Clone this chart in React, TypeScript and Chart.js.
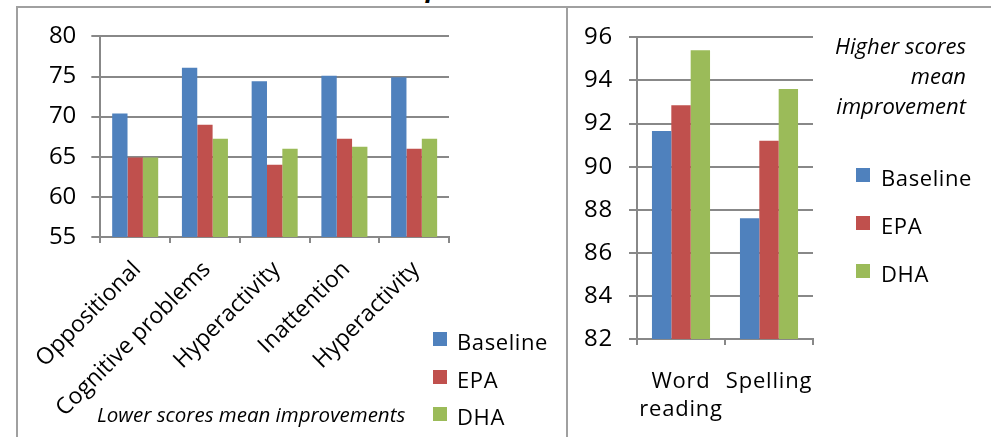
import React, { useEffect, useRef } from 'react';
import { Chart, registerables } from 'chart.js';

Chart.register(...registerables);

// ---------- data ----------
const seriesNames = ['Baseline', 'EPA', 'DHA'];
const seriesColors = ['#4F81BD', '#C0504D', '#9BBB59'];

const behaviorCategories = ['Oppositional', 'Cognitive problems', 'Hyperactivity', 'Inattention', 'Hyperactivity'];
const behaviorBaseline = [70.4, 76.1, 74.4, 75.1, 74.9];
const behaviorEPA = [64.9, 69.0, 64.0, 67.25, 66.0];
const behaviorDHA = [64.9, 67.25, 66.0, 66.25, 67.25];
const behaviorYMin = 55;
const behaviorYMax = 80;
const behaviorYStep = 5;

const readingCategories = [['Word', 'reading'], 'Spelling'];
const readingBaseline = [91.65, 87.6];
const readingEPA = [92.85, 91.2];
const readingDHA = [95.4, 93.6];
const readingYMin = 82;
const readingYMax = 96;
const readingYStep = 2;

const leftNote = 'Lower scores mean improvements';
const rightNote = ['Higher scores', 'mean', 'improvement'];

// ---------- styles ----------
const FONT = "'Open Sans', sans-serif";
const GRID = '#888888';
const FRAME = '#a0a0a0';

function makeSpacingPlugin(px: number) {
  return {
    id: 'letterSpacing',
    beforeDraw(chart: any) {
      (chart.ctx as any).letterSpacing = px + 'px';
    },
  };
}

function makeDatasets(values: number[][]) {
  return values.map((v, i) => ({
    label: seriesNames[i],
    data: v,
    backgroundColor: seriesColors[i],
    borderWidth: 0,
    categoryPercentage: 0.66,
    barPercentage: 1,
  }));
}

function BarCanvas(props: {
  width: number;
  height: number;
  labels: any[];
  values: number[][];
  yMin: number;
  yMax: number;
  yStep: number;
  padTop: number;
  padRight: number;
  yWidth: number;
  xHeight: number;
  yTickLen: number;
  yPad: number;
  xFontSize: number;
  xLineHeight: number;
  xPad: number;
  rotate: boolean;
  labelOffset: number;
  spacing: number;
}) {
  const ref = useRef<HTMLCanvasElement | null>(null);
  useEffect(() => {
    if (!ref.current) return;
    const chart = new Chart(ref.current, {
      type: 'bar',
      data: { labels: props.labels, datasets: makeDatasets(props.values) as any },
      plugins: [makeSpacingPlugin(props.spacing)],
      options: {
        animation: false,
        responsive: false,
        maintainAspectRatio: false,
        layout: { padding: { top: props.padTop, right: props.padRight, left: 0, bottom: 0 } },
        plugins: {
          legend: { display: false },
          tooltip: { enabled: false },
          title: { display: false },
        },
        scales: {
          x: {
            grid: {
              offset: true,
              drawOnChartArea: false,
              drawTicks: true,
              tickLength: 6,
              color: GRID,
              lineWidth: 2,
            },
            border: { display: true, color: GRID, width: 2 },
            ticks: {
              autoSkip: false,
              maxRotation: props.rotate ? 45 : 0,
              minRotation: props.rotate ? 45 : 0,
              padding: props.xPad,
              labelOffset: props.labelOffset,
              color: '#000',
              font: { family: FONT, size: props.xFontSize, lineHeight: props.xLineHeight },
            },
            afterFit: (s: any) => {
              s.height = props.xHeight;
            },
          },
          y: {
            min: props.yMin,
            max: props.yMax,
            ticks: {
              stepSize: props.yStep,
              padding: props.yPad,
              color: '#000',
              font: { family: FONT, size: 24 },
            },
            grid: { color: GRID, lineWidth: 2, tickLength: props.yTickLen, drawTicks: true },
            border: { display: true, color: GRID, width: 2 },
            afterFit: (s: any) => {
              s.width = props.yWidth;
            },
          },
        },
      } as any,
    });
    return () => chart.destroy();
  }, []);
  return (
    <canvas
      ref={ref}
      width={props.width}
      height={props.height}
      style={{ width: props.width, height: props.height, display: 'block' }}
    />
  );
}

function LegendItem(props: { x: number; y: number; tx: number; color: string; text: string }) {
  return (
    <>
      <div
        style={{
          position: 'absolute',
          left: props.x,
          top: props.y,
          width: 14,
          height: 14,
          background: props.color,
        }}
      />
      <div
        style={{
          position: 'absolute',
          left: props.tx,
          top: props.y - 2,
          fontFamily: FONT,
          fontSize: 22,
          lineHeight: '22px',
          letterSpacing: '0.6px',
          color: '#000',
          whiteSpace: 'nowrap',
        }}
      >
        {props.text}
      </div>
    </>
  );
}

export default function App() {
  return (
    <div
      style={{
        position: 'absolute',
        left: 0,
        top: 0,
        width: 991,
        height: 437,
        overflow: 'hidden',
        background: '#fff',
      }}
    >
      {/* cropped title fragment */}
      <div
        style={{
          position: 'absolute',
          left: 426,
          top: -27,
          fontFamily: FONT,
          fontWeight: 700,
          fontStyle: 'italic',
          fontSize: 26,
          lineHeight: '28px',
          color: '#000',
        }}
      >
        p
      </div>

      {/* left chart */}
      <div style={{ position: 'absolute', left: 17, top: 7 }}>
        <BarCanvas
          width={550}
          height={430}
          labels={behaviorCategories}
          values={[behaviorBaseline, behaviorEPA, behaviorDHA]}
          yMin={behaviorYMin}
          yMax={behaviorYMax}
          yStep={behaviorYStep}
          padTop={28}
          padRight={118}
          yWidth={82}
          xHeight={200}
          yTickLen={9}
          yPad={15}
          xFontSize={23}
          xLineHeight={1.2}
          xPad={13}
          rotate={true}
          labelOffset={2}
          spacing={0}
        />
      </div>

      {/* right chart */}
      <div style={{ position: 'absolute', left: 568, top: 7 }}>
        <BarCanvas
          width={423}
          height={430}
          labels={readingCategories}
          values={[readingBaseline, readingEPA, readingDHA]}
          yMin={readingYMin}
          yMax={readingYMax}
          yStep={readingYStep}
          padTop={28}
          padRight={178}
          yWidth={69}
          xHeight={98}
          yTickLen={8}
          yPad={16}
          xFontSize={22}
          xLineHeight={1.3}
          xPad={22}
          rotate={false}
          labelOffset={0}
          spacing={0.8}
        />
      </div>

      {/* frames */}
      <div style={{ position: 'absolute', left: 16, top: 6, width: 975, height: 2, background: FRAME }} />
      <div style={{ position: 'absolute', left: 16, top: 6, width: 2, height: 431, background: FRAME }} />
      <div style={{ position: 'absolute', left: 566, top: 6, width: 2, height: 431, background: FRAME }} />

      {/* left legend */}
      {seriesNames.map((n, i) => (
        <LegendItem key={'l' + i} x={433} y={[332, 370, 407][i]} tx={457} color={seriesColors[i]} text={n} />
      ))}
      {/* right legend */}
      {seriesNames.map((n, i) => (
        <LegendItem key={'r' + i} x={856} y={[168, 216, 264][i]} tx={881} color={seriesColors[i]} text={n} />
      ))}

      {/* notes */}
      <div
        style={{
          position: 'absolute',
          left: 97,
          top: 404,
          fontFamily: FONT,
          fontStyle: 'italic',
          fontSize: 20.5,
          lineHeight: '21px',
          color: '#000',
          whiteSpace: 'nowrap',
        }}
      >
        {leftNote}
      </div>
      <div
        style={{
          position: 'absolute',
          right: 25,
          top: 30,
          fontFamily: FONT,
          fontStyle: 'italic',
          fontSize: 22,
          lineHeight: '30px',
          color: '#000',
          textAlign: 'right',
          whiteSpace: 'nowrap',
        }}
      >
        {rightNote.map((t, i) => (
          <div key={i}>{t}</div>
        ))}
      </div>
    </div>
  );
}
